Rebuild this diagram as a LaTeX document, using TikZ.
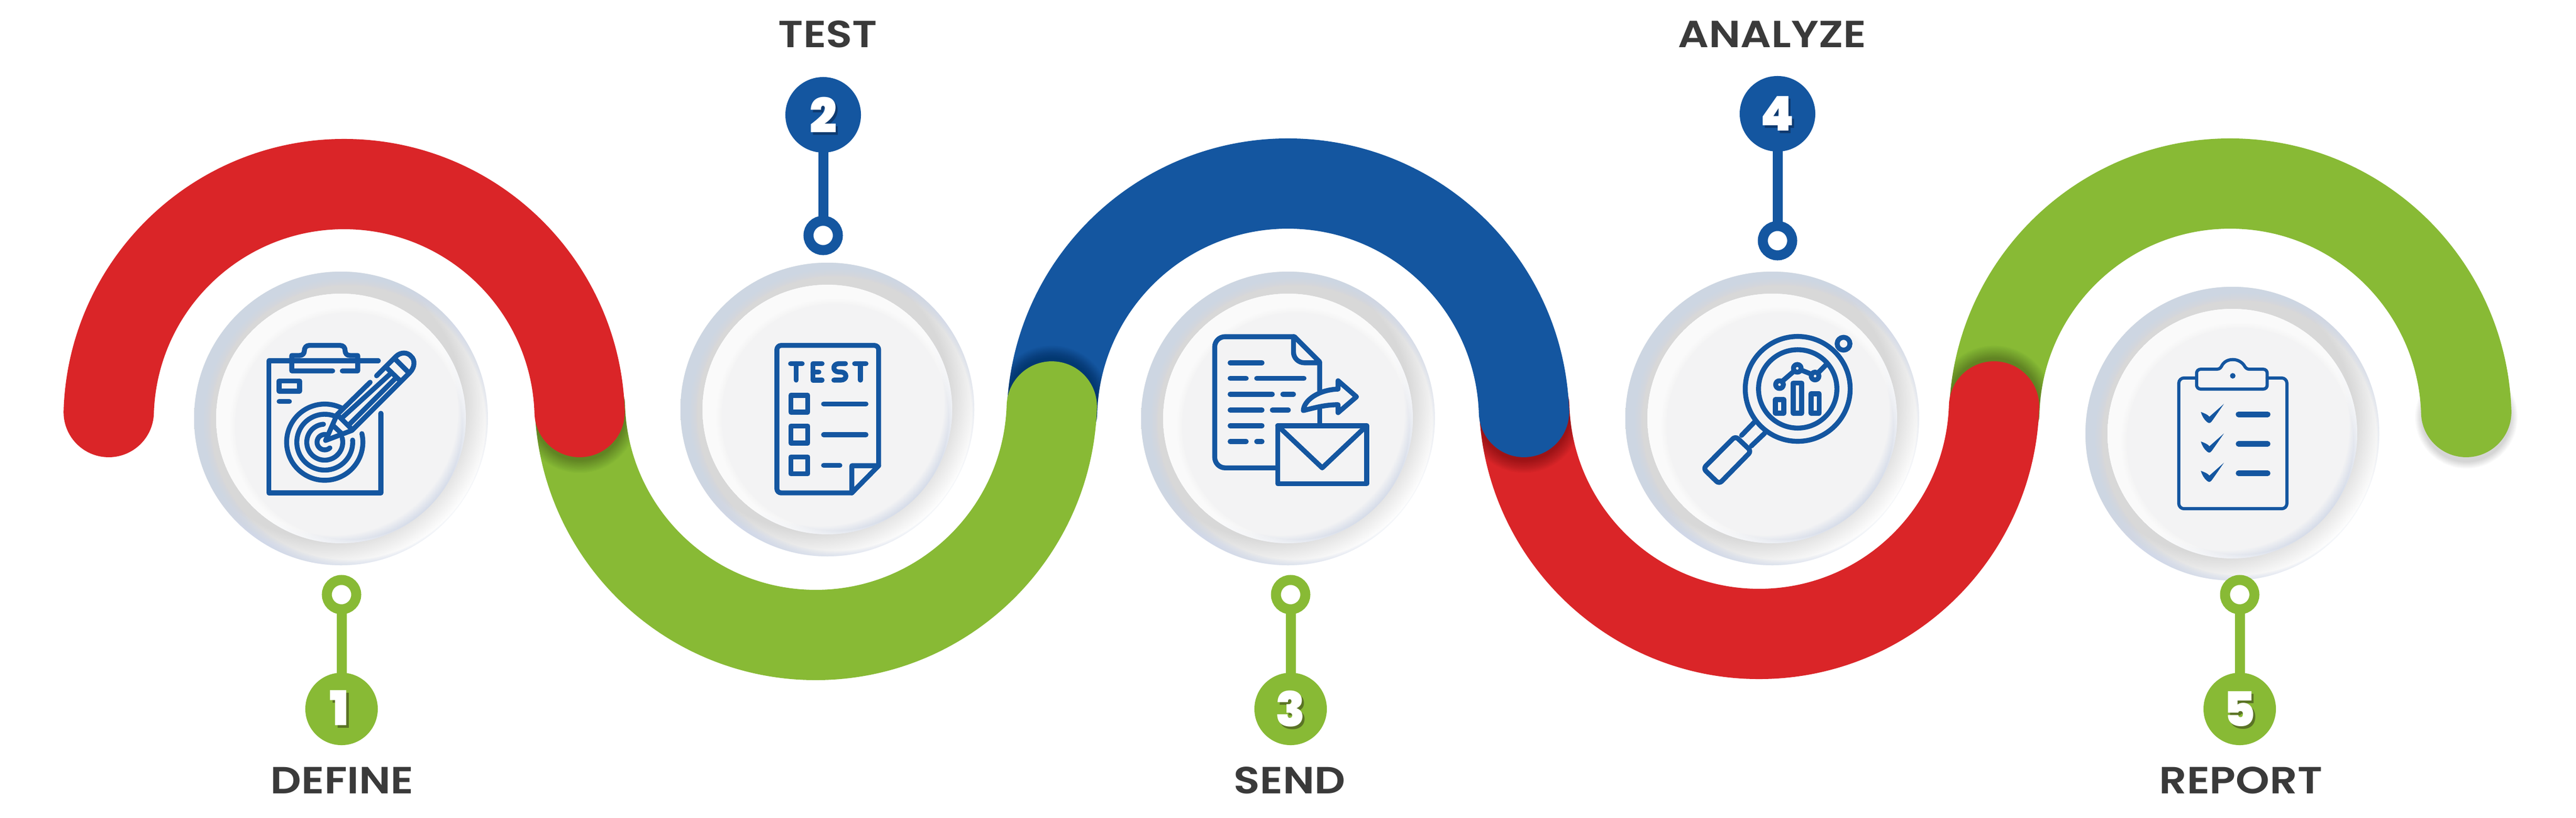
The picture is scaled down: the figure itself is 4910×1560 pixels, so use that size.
\documentclass[tikz,border=0pt]{standalone}
\usepackage{fontspec}
\setmainfont{Poppins}
\newfontfamily\numfont{Poppins Black}
\newfontfamily\labelfont[FakeStretch=1.14]{Poppins SemiBold}
\definecolor{cred}{HTML}{DA2528}
\definecolor{cgreen}{HTML}{88BA35}
\definecolor{cblue}{HTML}{1456A0}
\definecolor{cdkgreen}{HTML}{5A7325}
\definecolor{cdkblue}{HTML}{0E3A70}
\definecolor{ctext}{HTML}{3A3A3A}
\definecolor{ringgray}{HTML}{D8D8D8}
\definecolor{ringblue}{HTML}{CDD6E8}
\definecolor{discfill}{HTML}{F3F3F4}
\definecolor{discedge}{HTML}{D3DAE8}
\pgfdeclareradialshading{ringshade}{\pgfpoint{0bp}{0bp}}{color(0bp)=(ringgray);color(20.15bp)=(ringgray);color(25bp)=(white);color(50bp)=(white)}
\pgfdeclareradialshading{discshade}{\pgfpoint{0bp}{0bp}}{color(0bp)=(discfill);color(22.85bp)=(discfill);color(25bp)=(discedge);color(50bp)=(discedge)}
\tikzset{
  bandline/.style={line width=1.72cm,line cap=round},
  ic/.style={draw=cblue,line width=.094cm,line cap=round,line join=round},
  numdisc/.style={circle,inner sep=0pt,minimum size=#1,draw=none},
  holedisc/.style={circle,inner sep=0pt,minimum size=.56cm,line width=.19cm,fill=white},
  stemline/.style={line width=.19cm,shorten >=-3pt,shorten <=-3pt},
  steplabel/.style={inner sep=0pt,anchor=base,text=ctext,font=\fontsize{20.5}{24}\selectfont\labelfont},
  digit/.style={inner sep=0pt,font=\fontsize{26}{30}\selectfont\numfont},
}
% a grey ring with a soft shadow and the light disc on it
\newcommand{\pressbutton}[2]{%
  \begin{scope}[shift={(#1,#2)}]
    \begin{scope}
      \clip (0,0) circle[radius=280];
      \shade[shading=ringshade] (-32,-32) circle[radius=325];
      \foreach \r in {278,276,...,262}{\fill[ringblue,opacity=.15,even odd rule] (0,0) circle[radius=330] (14,8) circle[radius=\r];}
    \end{scope}
    \begin{scope}
      \clip (0,0) circle[radius=238];
      \shade[shading=discshade] (-14,-14) circle[radius=258];
      \foreach \r in {235,233,...,217}{\fill[white,opacity=.18,even odd rule] (0,0) circle[radius=300] (15,15) circle[radius=\r];}
    \end{scope}
  \end{scope}}
% shadow thrown by a band's round end
\newcommand{\capshadow}[4]{%
  \foreach \k in {1,...,18}{\fill[black,opacity=#4] (#1,#2+#3) circle[radius=86+1.4*\k];}}
\newcommand{\softshadow}[3]{%
  \foreach \k in {1,...,14}{\fill[black,opacity=.012] (#1,#2+#3) circle[radius=84+\k];}}
\newcommand{\clipupper}[3]{\clip (#1-#3-86,#2) arc[start angle=180,end angle=360,radius=#3+86] -- (#1+#3-86,#2) arc[start angle=360,end angle=180,radius=#3-86] -- cycle;}
\newcommand{\cliplower}[3]{\clip (#1-#3-86,#2) arc[start angle=180,end angle=0,radius=#3+86] -- (#1+#3-86,#2) arc[start angle=0,end angle=180,radius=#3-86] -- cycle;}
\begin{document}
\begin{tikzpicture}[x=.01cm,y=.01cm,yscale=-1]
\useasboundingbox (0,0) rectangle (4910,1560);
% ---------- ribbon, bottom layer first
\softshadow{4701}{786}{10}
\draw[bandline,cgreen] (4251,800) ++(181.8:450) arc[start angle=181.8,end angle=358.2,radius=450];
\begin{scope}\clipupper{4251}{800}{450}\capshadow{3801}{775}{-5}{.016}\end{scope}
\draw[bandline,cred] (3353,761) ++(178.2:448) arc[start angle=178.2,end angle=1.8,radius=448];
\begin{scope}\cliplower{3353}{761}{448}\capshadow{2905}{786}{5}{.016}\end{scope}
\draw[bandline,cblue] (2455,800) ++(181.8:450) arc[start angle=181.8,end angle=358.2,radius=450];
\begin{scope}\clipupper{2455}{800}{450}\capshadow{2005}{775}{-5}{.016}\end{scope}
\draw[bandline,cgreen] (1555,761) ++(178.2:450) arc[start angle=178.2,end angle=1.8,radius=450];
\begin{scope}\cliplower{1555}{761}{450}\capshadow{1105}{786}{5}{.016}\end{scope}
\draw[bandline,cred] (656,800) ++(181.8:449) arc[start angle=181.8,end angle=358.2,radius=449];
% ---------- buttons
\pressbutton{650}{798}
\pressbutton{1577}{781}
\pressbutton{2455}{798}
\pressbutton{3378}{798}
\pressbutton{4255}{827}
% ---------- icon 1: clipboard with target and pencil
\begin{scope}[shift={(330,480)},scale=.40816]
  \draw[ic] (958,510) -- (447,510) -- (447,1127) -- (970,1127) -- (970,755);
  \draw[ic] (745,557) -- (554,557) -- (554,485) -- (590,485) .. controls (605,485) and (613,475) .. (613,462) .. controls (613,448) and (622,438) .. (635,438) -- (780,438) .. controls (795,438) and (803,448) .. (803,462) .. controls (803,475) and (811,485) .. (826,485) -- (862,485) -- (862,557) -- (790,557);
  \draw[ic] (862,510) -- (958,510);
  \draw[ic] (495,604) rectangle (590,652);
  \draw[ic] (495,700) -- (543,700);
  \draw[ic] (708,890) ++(-63.6:178) arc[start angle=-63.6,end angle=-373,radius=178];
  \draw[ic] (708,890) ++(-68.6:130.5) arc[start angle=-68.6,end angle=-364.4,radius=130.5];
  \draw[ic] (708,890) ++(-94:84) arc[start angle=-94,end angle=-373.7,radius=84];
  \draw[ic] (708,890) ++(-75:36) arc[start angle=-75,end angle=-312,radius=36];
  \draw[ic] (920,610) -- (765,762) -- (712,882) -- (835,835) -- (1105,565) .. controls (1130,540) and (1130,505) .. (1112,490) .. controls (1095,468) and (1062,468) .. (1040,490) -- (950,580);
  \draw[ic] (1040,505) -- (1100,565);
  \draw[ic] (1000,545) -- (1062,605);
  \draw[ic] (790,775) -- (1015,570);
  \draw[ic] (822,808) -- (1035,595);
  \draw[ic] (770,765) -- (830,825);
  \draw[ic] (750,815) -- (785,848);
\end{scope}
% ---------- icon 2: test sheet
\begin{scope}[shift={(1280,480)},scale=.40816]
  \draw[ic,rounded corners=.08cm] (842,1127) -- (492,1127) -- (492,438) -- (967,438) -- (967,1000);
  \draw[ic] (967,1000) -- (842,1127) -- (842,1000) -- cycle;
  \draw[ic] (556,523) -- (610,523) (582,523) -- (582,600);
  \draw[ic] (703,523) -- (660,523) -- (660,600) -- (703,600) (660,562) -- (688,562);
  \draw[ic] (812,523) -- (782,523) .. controls (750,523) and (750,562) .. (782,562) -- (790,562) .. controls (822,562) and (822,600) .. (790,600) -- (758,600);
  \draw[ic] (855,523) -- (908,523) (882,523) -- (882,600);
  \draw[ic] (557,671) rectangle (636,750);
  \draw[ic] (557,815) rectangle (636,894);
  \draw[ic] (557,959) rectangle (636,1038);
  \draw[ic] (710,711) -- (908,711);
  \draw[ic] (710,855) -- (908,855);
  \draw[ic] (710,998) -- (786,998);
\end{scope}
% ---------- icon 3: document, arrow, envelope
\begin{scope}[shift={(2170,480)},scale=.40816]
  \draw[ic] (638,1010) -- (405,1010) .. controls (378,1010) and (356,988) .. (356,960) -- (356,445) .. controls (356,418) and (378,397) .. (405,397) -- (728,397) -- (846,515) -- (846,650);
  \draw[ic] (846,735) -- (846,802);
  \draw[ic] (724,397) -- (724,470) .. controls (724,497) and (747,519) .. (775,519) -- (846,519);
  \draw[ic] (428,519) -- (577,519);
  \draw[ic] (428,592) -- (503,592) (552,592) -- (773,592);
  \draw[ic] (428,666) -- (625,666) (674,666) -- (724,666);
  \draw[ic] (428,740) -- (577,740) (625,740) -- (700,740);
  \draw[ic] (428,813) -- (577,813);
  \draw[ic] (428,887) -- (503,887) (552,887) -- (577,887);
  \draw[ic] (770,742) .. controls (772,695) and (840,645) .. (932,642) -- (932,603) -- (1018,678) -- (932,752) -- (932,715) .. controls (870,715) and (820,730) .. cycle;
  \draw[ic] (650,813) rectangle (1066,1084);
  \draw[ic] (650,813) -- (858,1010) -- (1066,813);
\end{scope}
% ---------- icon 4: magnifier over a chart
\begin{scope}[shift={(3080,480)},scale=.40816]
  \draw[ic] (849,641) circle[radius=245];
  \draw[ic] (849,641) circle[radius=183];
  \draw[ic] (1063,430) circle[radius=30];
  \draw[ic] (648,795) -- (587,858);
  \draw[ic] (695,848) -- (632,908);
  \draw[ic,rounded corners=.07cm] (558,862) -- (632,932) -- (482,1085) -- (408,1013) -- cycle;
  \draw[ic] (764,621) circle[radius=18];
  \draw[ic] (847,545) circle[radius=18];
  \draw[ic] (930,581) circle[radius=18];
  \draw[ic] (775,607) -- (833,557);
  \draw[ic] (865,553) -- (915,573);
  \draw[ic] (945,565) -- (985,525);
  \draw[ic] (745,691) rectangle (784,755);
  \draw[ic] (828,613) rectangle (867,755);
  \draw[ic] (911,664) rectangle (950,755);
\end{scope}
% ---------- icon 5: clipboard with ticks
\begin{scope}[shift={(3950,500)},scale=.40816]
  \draw[ic,line width=.06cm,rounded corners=.1cm] (580,541) -- (497,541) -- (497,1152) -- (1002,1152) -- (1002,541) -- (910,541);
  \draw[ic,line width=.06cm] (600,500) -- (675,500) .. controls (690,500) and (695,490) .. (700,480) .. controls (712,462) and (730,455) .. (750,455) .. controls (770,455) and (790,465) .. (802,482) .. controls (807,492) and (815,500) .. (825,500) -- (890,500) .. controls (903,500) and (910,508) .. (910,520) -- (910,573) .. controls (910,585) and (903,593) .. (890,593) -- (600,593) .. controls (588,593) and (580,585) .. (580,573) -- (580,520) .. controls (580,508) and (588,500) .. cycle;
  \fill[cblue] (749,531) circle[radius=13];
  \foreach \d in {0,138,275}{
    \fill[cblue,shift={(0,\d)}] (600,700) .. controls (615,705) and (632,712) .. (640,722) -- (708,662) .. controls (685,695) and (665,725) .. (650,745) .. controls (642,755) and (635,752) .. (628,746) .. controls (615,735) and (605,718) .. cycle;
  }
  \draw[ic,line width=.106cm] (776,711) -- (912,711);
  \draw[ic,line width=.106cm] (776,849) -- (912,849);
  \draw[ic,line width=.106cm] (776,986) -- (912,986);
\end{scope}
% ---------- pins and numbers
\node[numdisc=1.38cm,fill=cgreen] (n1) at (651,1352) {};
\node[holedisc,draw=cgreen] (h1) at (651,1134) {};
\draw[stemline,cgreen] (h1) -- (n1);
\node[numdisc=1.44cm,fill=cblue] (n2) at (1569,219) {};
\node[holedisc,draw=cblue] (h2) at (1569,449) {};
\draw[stemline,cblue] (h2) -- (n2);
\node[numdisc=1.38cm,fill=cgreen] (n3) at (2460,1352) {};
\node[holedisc,draw=cgreen] (h3) at (2460,1134) {};
\draw[stemline,cgreen] (h3) -- (n3);
\node[numdisc=1.44cm,fill=cblue] (n4) at (3388,217) {};
\node[holedisc,draw=cblue] (h4) at (3388,459) {};
\draw[stemline,cblue] (h4) -- (n4);
\node[numdisc=1.38cm,fill=cgreen] (n5) at (4269,1352) {};
\node[holedisc,draw=cgreen] (h5) at (4269,1134) {};
\draw[stemline,cgreen] (h5) -- (n5);
% digits with their hard shadow
\node[digit,text=cdkgreen] (s1) at (651.5,1355) {1};
\node[digit,text=white] (d1) at (647,1350) {1};
\node[digit,text=cdkblue] (s2) at (1573,224) {2};
\node[digit,text=white] (d2) at (1569,219) {2};
\node[digit,text=cdkgreen] (s3) at (2464,1357) {3};
\node[digit,text=white] (d3) at (2460,1352) {3};
\node[digit,text=cdkblue] (s4) at (3392,222) {4};
\node[digit,text=white] (d4) at (3388,217) {4};
\node[digit,text=cdkgreen] (s5) at (4273,1357) {5};
\node[digit,text=white] (d5) at (4269,1352) {5};
% labels
\node[steplabel] (l1) at (652,1513) {DEFINE};
\node[steplabel] (l2) at (1578,90) {TEST};
\node[steplabel] (l3) at (2458,1513) {SEND};
\node[steplabel] (l4) at (3378,90) {ANALYZE};
\node[steplabel] (l5) at (4271,1513) {REPORT};
\end{tikzpicture}
\end{document}
